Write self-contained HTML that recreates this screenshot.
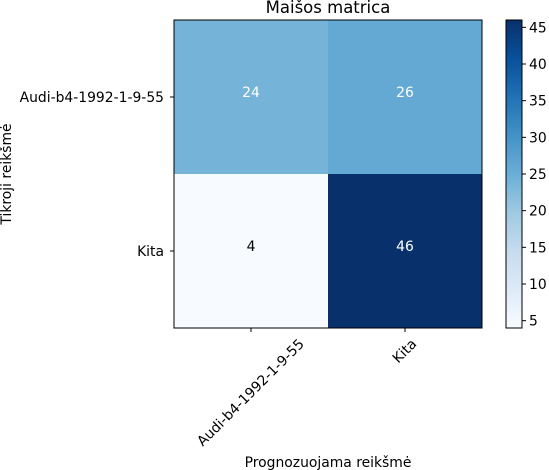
<!DOCTYPE html>
<html><head><meta charset="utf-8"><style>
body{margin:0;background:#fff;}
svg{display:block;font-family:"DejaVu Sans","Liberation Sans",sans-serif;}
</style></head><body>
<svg id="c" width="549" height="470" viewBox="0 0 549 470">
<defs><linearGradient id="g" x1="0" y1="1" x2="0" y2="0">
<stop offset="0" stop-color="#f7fbff"/><stop offset="0.125" stop-color="#deebf7"/><stop offset="0.25" stop-color="#c6dbef"/><stop offset="0.375" stop-color="#9ecae1"/><stop offset="0.5" stop-color="#6baed6"/><stop offset="0.625" stop-color="#4292c6"/><stop offset="0.75" stop-color="#2171b5"/><stop offset="0.875" stop-color="#08519c"/><stop offset="1" stop-color="#08306b"/></linearGradient></defs>
<text x="328" y="13" font-size="16.5" text-anchor="middle">Maišos matrica</text>
<g id="cells"></g>
<rect x="174" y="20" width="308" height="308" fill="none" stroke="#000" stroke-width="1"/>
<g id="axes" font-size="13.9"></g>
<text x="328" y="467" font-size="13.9" text-anchor="middle">Prognozuojama reikšmė</text>
<text transform="translate(11,174) rotate(-90)" font-size="13.9" text-anchor="middle">Tikroji reikšmė</text>
<rect x="506" y="20" width="16" height="308" fill="url(#g)" stroke="#000" stroke-width="1"/>
<g id="cb" font-size="13.9"></g>
</svg>
<script>
const categories=["Audi-b4-1992-1-9-55","Kita"];
const matrixValues=[[24,26],[4,46]];
const colorbarTicks=[5,10,15,20,25,30,35,40,45];
const ns="http://www.w3.org/2000/svg";
const stops=["#f7fbff","#deebf7","#c6dbef","#9ecae1","#6baed6","#4292c6","#2171b5","#08519c","#08306b"];
const flat=matrixValues.flat();const vmin=Math.min(...flat),vmax=Math.max(...flat);
function hx(h){return [1,3,5].map(i=>parseInt(h.substr(i,2),16));}
function cmap(v){let t=(v-vmin)/(vmax-vmin);t=Math.max(0,Math.min(1,t));const p=t*8;const i=Math.min(7,Math.floor(p));const f=p-i;const a=hx(stops[i]),b=hx(stops[i+1]);return "rgb("+a.map((x,k)=>Math.round(x+(b[k]-x)*f)).join(",")+")";}
const X0=174,Y0=20,S=308,n=categories.length,cw=S/n;
function mk(tag,attrs,parent,txt){const e=document.createElementNS(ns,tag);for(const k in attrs)e.setAttribute(k,attrs[k]);if(txt!==undefined)e.textContent=txt;parent.appendChild(e);return e;}
const cells=document.getElementById('cells'),axes=document.getElementById('axes'),cb=document.getElementById('cb');
matrixValues.forEach((row,r)=>row.forEach((v,c)=>{
 const rc=mk('rect',{x:X0+c*cw,y:Y0+r*cw,width:cw,height:cw,fill:cmap(v)},cells);
 
 
 const t=mk('text',{x:X0+c*cw+cw/2,y:Y0+r*cw+cw/2,'font-size':13.9,'text-anchor':'middle',fill:v>=20?'#fff':'#000'},cells,v);
 
 
}));
categories.forEach((cat,i)=>{
 const cx=X0+i*cw+cw/2;
 mk('line',{x1:cx,x2:cx,y1:328,y2:332,stroke:'#000'},axes);
 const t=mk('text',{'text-anchor':'middle','dominant-baseline':'central'},axes,cat);
 
 
 const L=t.getComputedTextLength();const half=(L+14)*Math.SQRT1_2/2;
 t.setAttribute('transform',`translate(${cx},${337+half}) rotate(-45)`);
 const cy=Y0+i*cw+cw/2;
 mk('line',{x1:170,x2:174,y1:cy,y2:cy,stroke:'#000'},axes);
 const t2=mk('text',{x:164,y:cy+5,'text-anchor':'end'},axes,cat);
 
 
});
colorbarTicks.forEach(v=>{
 const y=328-(v-vmin)/(vmax-vmin)*308;
 mk('line',{x1:522,x2:526,y1:y,y2:y,stroke:'#000'},cb);
 const t=mk('text',{x:529,y:y+5},cb,v);
 
 
});
</script>
</body></html>
